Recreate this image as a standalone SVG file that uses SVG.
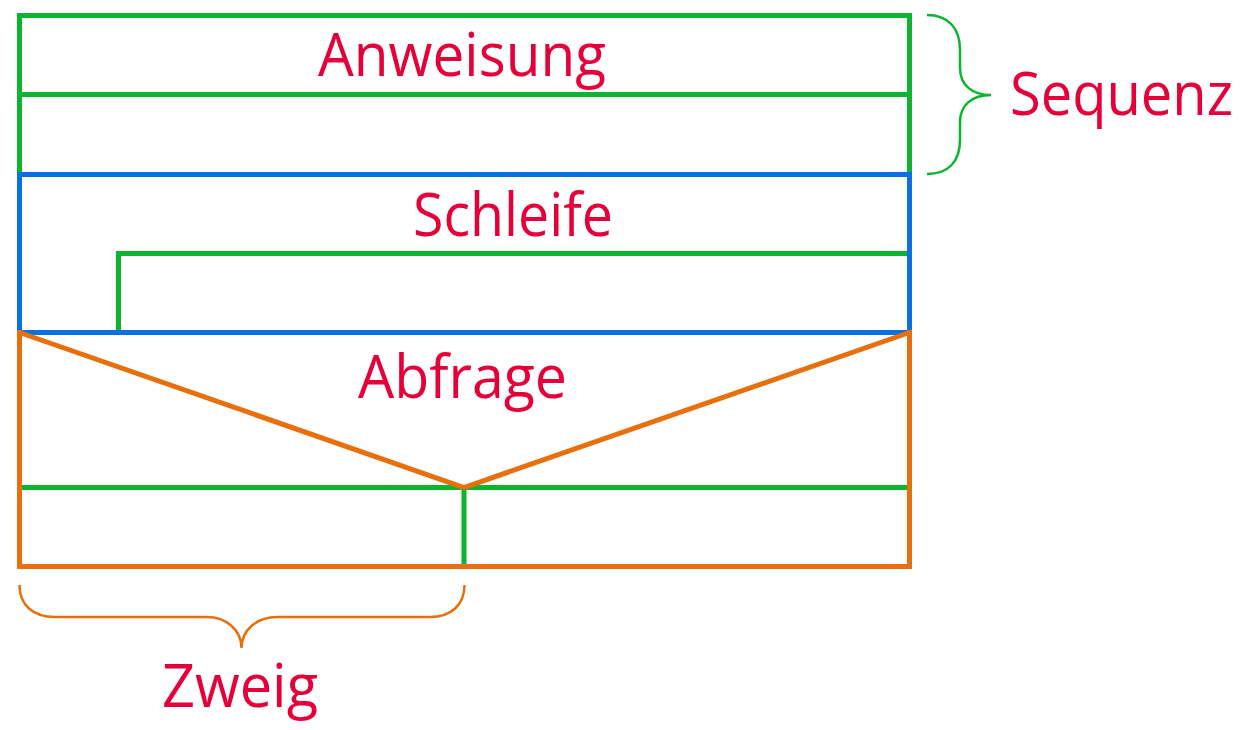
<svg xmlns="http://www.w3.org/2000/svg" width="1251" height="730" viewBox="0 0 1251 730">
<style>
.g{stroke:#0cb52e;}
.b{stroke:#0870e0;}
.o{stroke:#e8700c;}
.ln{fill:none;stroke-width:5;stroke-linecap:square;}
.br{fill:none;stroke-width:2.5;}
.t{font-family:"Open Sans","Noto Sans",sans-serif;font-size:60px;fill:#e6003a;text-anchor:middle;}
</style>
<rect width="1251" height="730" fill="#ffffff"/>
<g id="connectors">
<path class="br g" d="M927,15 C948,15 960,28 960,50 L960,68 C960,85 972,95 991,95 C972,95 960,105 960,122 L960,140 C960,162 948,174 927,174"/>
<path class="br o" d="M19.5,585 C19.5,605 33,617 55,617 L207,617 C226,617 241.5,630 241.5,648 C241.5,630 257,617 277,617 L430,617 C451,617 464.5,605 464.5,585"/>
</g>
<g id="anweisung">
<rect class="ln g" x="19.5" y="15.5" width="890" height="79"/>
<text class="t" x="462" y="76" textLength="288" lengthAdjust="spacingAndGlyphs">Anweisung</text>
</g>
<g id="anweisung2">
<rect class="ln g" x="19.5" y="94.5" width="890" height="80"/>
</g>
<g id="schleife">
<polyline class="ln g" points="118.5,332.5 118.5,253.5 909.5,253.5"/>
<rect class="ln b" x="19.5" y="174.5" width="890" height="158"/>
<text class="t" x="513" y="236" textLength="200" lengthAdjust="spacingAndGlyphs">Schleife</text>
</g>
<g id="abfrage">
<line class="ln g" x1="19.5" y1="487.5" x2="909.5" y2="487.5"/>
<line class="ln g" x1="464" y1="487.5" x2="464" y2="566.5"/>
<polyline class="o" fill="none" stroke-width="5" points="19.5,332.5 464,487.5 909.5,332.5"/>
<path class="ln o" d="M19.5,332.5 L19.5,566.5 L909.5,566.5 L909.5,332.5"/>
<text class="t" x="462.5" y="398" textLength="209" lengthAdjust="spacingAndGlyphs">Abfrage</text>
</g>
<g id="sequenz">
<text class="t" x="1121.5" y="115" textLength="223" lengthAdjust="spacingAndGlyphs">Sequenz</text>
</g>
<g id="zweig">
<text class="t" x="240" y="707" textLength="156" lengthAdjust="spacingAndGlyphs">Zweig</text>
</g>
</svg>
